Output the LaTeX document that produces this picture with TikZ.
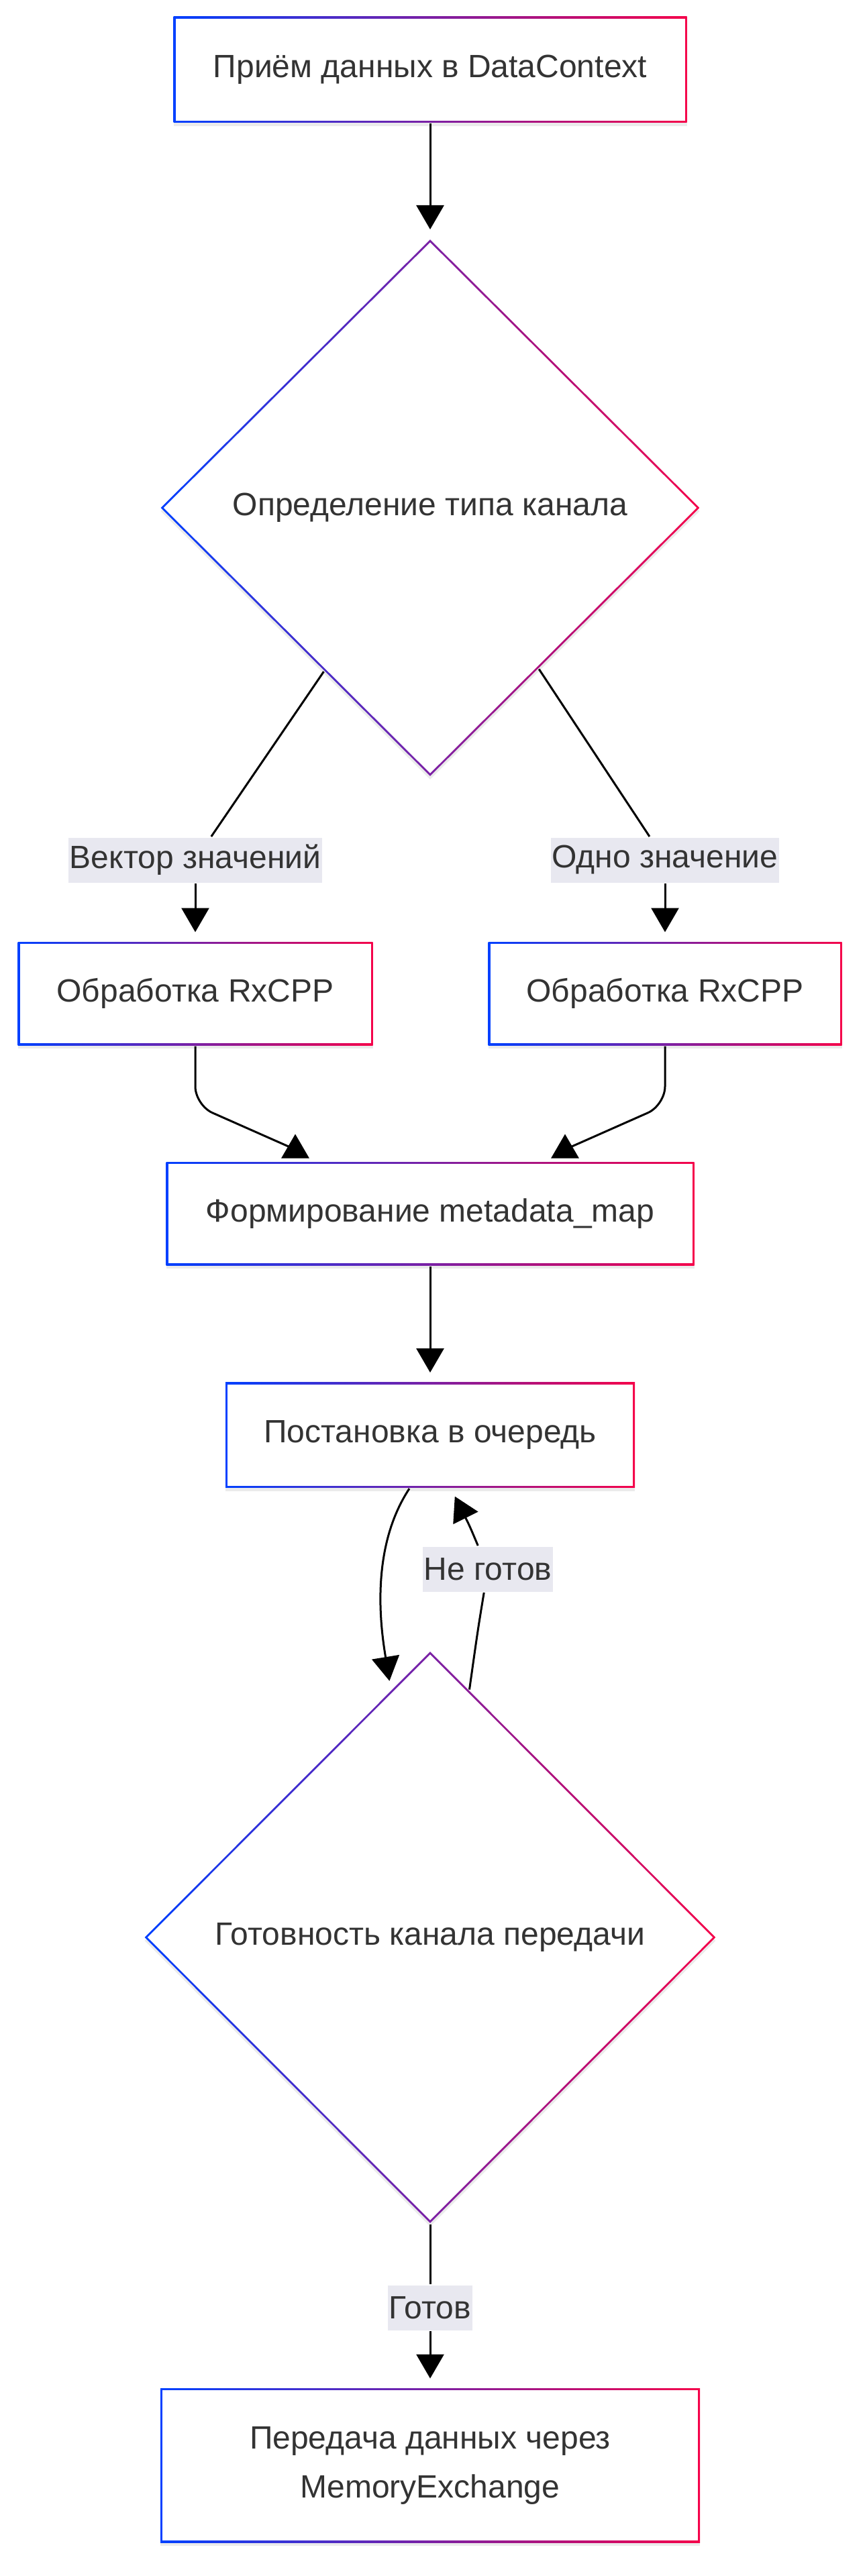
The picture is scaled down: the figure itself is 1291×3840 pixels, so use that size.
\documentclass[tikz,border=0pt]{standalone}
\usepackage{fontspec}
\setmainfont{Liberation Sans}
\usetikzlibrary{arrows.meta, positioning, shapes.geometric, calc, shadows}
\definecolor{cblue}{HTML}{0040FF}
\definecolor{cred}{HTML}{F5004A}
\definecolor{ctext}{HTML}{333333}
\definecolor{clabel}{HTML}{E8E8F0}
\tikzset{
  every picture/.style={font=\fontsize{48}{73}\selectfont, line width=3pt},
  softshadow/.style={drop shadow={shadow xshift=0pt, shadow yshift=-5pt, opacity=0.08, fill=black}},
  box/.style={rectangle, fill=white, text=ctext, align=center, inner sep=0pt, softshadow,
    path picture={
      \shade[left color=cblue, right color=cred] (path picture bounding box.south west) rectangle (path picture bounding box.north east);
      \fill[white] ([shift={(3pt,3pt)}]path picture bounding box.south west) rectangle ([shift={(-3pt,-3pt)}]path picture bounding box.north east);
    }},
  decision/.style={diamond, fill=white, text=ctext, align=center, inner sep=0pt, softshadow,
    path picture={
      \shade[left color=cblue, right color=cred] (path picture bounding box.south west) rectangle (path picture bounding box.north east);
      \fill[white] ([yshift=-4.2pt]path picture bounding box.north) -- ([xshift=-4.2pt]path picture bounding box.east) -- ([yshift=4.2pt]path picture bounding box.south) -- ([xshift=4.2pt]path picture bounding box.west) -- cycle;
    }},
  elabel/.style={fill=clabel, text=ctext, inner xsep=2pt, inner ysep=0pt, minimum height=67pt},
  arrow/.style={-{Triangle[length=36pt, width=41pt]}, draw=black, line width=3pt, shorten >=13pt},
}
\begin{document}
\begin{tikzpicture}[x=1pt, y=-1pt]
  \useasboundingbox (0,0) rectangle (1291,3840);
  % steps
  \node[box, minimum width=765pt, minimum height=158pt] (recv) at (641,104) {Приём данных в DataContext};
  \node[decision, minimum width=804pt, minimum height=801pt] (kind) at (641,757) {Определение типа канала};
  \node[box, minimum width=529pt, minimum height=154pt] (rxl) at (291,1481) {Обработка RxCPP};
  \node[box, minimum width=527pt, minimum height=154pt] (rxr) at (991,1481) {Обработка RxCPP};
  \node[box, minimum width=787pt, minimum height=154pt] (meta) at (641,1809) {Формирование metadata\_map};
  \node[box, minimum width=610pt, minimum height=157pt] (queue) at (641,2139) {Постановка в очередь};
  \node[decision, minimum width=852pt, minimum height=853pt] (ready) at (641,2888) {Готовность канала передачи};
  \node[box, minimum width=804pt, minimum height=230pt] (send) at (641,3675) {Передача данных через\\MemoryExchange};
  % edge labels
  \node[elabel] (lvec) at (291,1282) {Вектор значений};
  \node[elabel] (lone) at (991,1282) {Одно значение};
  \node[elabel] (lnot) at (727,2339) {Не готов};
  \node[elabel] (lgo) at (641,3440) {Готов};
  % connectors
  \draw[arrow] (recv) -- (kind);
  \draw (kind.-123) -- (lvec);
  \draw[arrow] (lvec) -- (rxl);
  \draw (kind.-56) -- (lone);
  \draw[arrow] (lone) -- (rxr);
  \draw[arrow, shorten >=0pt] (rxl.south) [rounded corners=28pt] -- ++(0,88) [sharp corners] -- ($(meta.north)+(-201,-17)$) -- ++(0,-23);
  \draw[arrow, shorten >=0pt] (rxr.south) [rounded corners=28pt] -- ++(0,88) [sharp corners] -- ($(meta.north)+(201,-17)$) -- ++(0,-23);
  \draw[arrow] (meta) -- (queue);
  \draw[arrow] ($(queue.south)+(-31,0)$) .. controls (550,2310) and (568,2430) .. (ready.99);
  \draw (ready.81) .. controls (712,2430) .. (lnot);
  \draw[arrow] (lnot) .. controls (700,2275) .. ($(queue.south)+(31,0)$);
  \draw (ready) -- (lgo);
  \draw[arrow] (lgo) -- (send);
\end{tikzpicture}
\end{document}
